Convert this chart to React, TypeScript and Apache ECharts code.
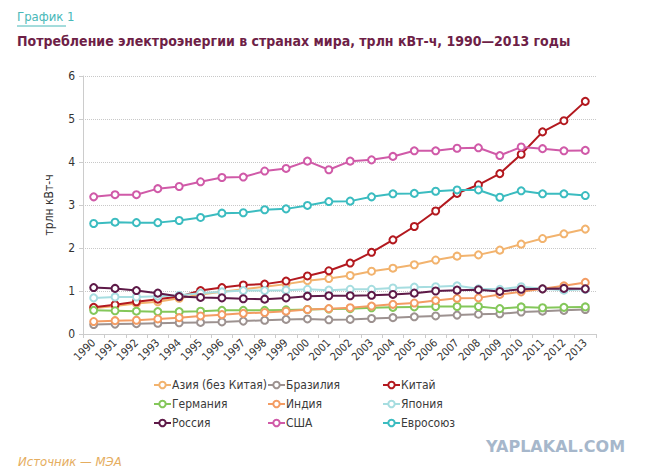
import React, { useEffect, useRef } from 'react';
import * as echarts from 'echarts';

const years = [
  '1990', '1991', '1992', '1993', '1994', '1995', '1996', '1997', '1998', '1999', '2000', '2001',
  '2002', '2003', '2004', '2005', '2006', '2007', '2008', '2009', '2010', '2011', '2012', '2013',
];

const asia = [0.60, 0.65, 0.71, 0.75, 0.83, 0.92, 0.98, 1.04, 1.10, 1.16, 1.24, 1.29, 1.36, 1.46, 1.53, 1.61, 1.72, 1.81, 1.84, 1.95, 2.09, 2.22, 2.33, 2.44];
const brazil = [0.22, 0.23, 0.24, 0.25, 0.26, 0.27, 0.28, 0.30, 0.32, 0.34, 0.35, 0.33, 0.34, 0.36, 0.38, 0.40, 0.42, 0.44, 0.46, 0.47, 0.51, 0.53, 0.55, 0.57];
const china = [0.62, 0.68, 0.75, 0.81, 0.87, 1.01, 1.08, 1.14, 1.16, 1.23, 1.35, 1.47, 1.65, 1.90, 2.19, 2.50, 2.86, 3.27, 3.47, 3.73, 4.18, 4.70, 4.96, 5.41];
const germany = [0.55, 0.54, 0.53, 0.52, 0.52, 0.53, 0.55, 0.55, 0.55, 0.56, 0.57, 0.58, 0.59, 0.61, 0.62, 0.63, 0.64, 0.64, 0.64, 0.59, 0.63, 0.61, 0.62, 0.63];
const india = [0.29, 0.31, 0.32, 0.35, 0.38, 0.42, 0.45, 0.48, 0.50, 0.53, 0.57, 0.59, 0.61, 0.65, 0.69, 0.72, 0.78, 0.83, 0.84, 0.92, 0.98, 1.05, 1.12, 1.20];
const japan = [0.84, 0.86, 0.86, 0.88, 0.90, 0.95, 0.98, 1.01, 1.01, 1.02, 1.04, 1.02, 1.04, 1.04, 1.07, 1.09, 1.10, 1.12, 1.05, 1.04, 1.10, 1.05, 1.02, 1.04];
const russia = [1.08, 1.06, 1.01, 0.95, 0.87, 0.85, 0.84, 0.82, 0.81, 0.84, 0.88, 0.89, 0.89, 0.90, 0.92, 0.95, 1.00, 1.02, 1.03, 0.99, 1.04, 1.05, 1.06, 1.05];
const usa = [3.19, 3.24, 3.24, 3.38, 3.43, 3.54, 3.64, 3.65, 3.79, 3.85, 4.02, 3.82, 4.02, 4.05, 4.13, 4.26, 4.26, 4.32, 4.33, 4.15, 4.35, 4.31, 4.26, 4.27];
const eu = [2.57, 2.60, 2.59, 2.59, 2.64, 2.71, 2.81, 2.82, 2.89, 2.91, 2.99, 3.08, 3.09, 3.19, 3.26, 3.27, 3.32, 3.35, 3.35, 3.18, 3.33, 3.26, 3.26, 3.22];

const seriesList = [
  { name: 'Азия (без Китая)', data: asia, color: '#f2b36e' },
  { name: 'Бразилия', data: brazil, color: '#9d9290' },
  { name: 'Китай', data: china, color: '#b3191f' },
  { name: 'Германия', data: germany, color: '#84c75a' },
  { name: 'Индия', data: india, color: '#f39c63' },
  { name: 'Япония', data: japan, color: '#a6dde0' },
  { name: 'Россия', data: russia, color: '#5e1a48' },
  { name: 'США', data: usa, color: '#d05aa8' },
  { name: 'Евросоюз', data: eu, color: '#3bbcc0' },
];

// колонки легенды
const legendCols = [
  ['Азия (без Китая)', 'Германия', 'Россия'],
  ['Бразилия', 'Индия', 'США'],
  ['Китай', 'Япония', 'Евросоюз'],
];
const legendLeft = [148, 262, 377];

const FONT = "'Liberation Sans Narrow', 'DejaVu Sans Condensed', 'Noto Sans', sans-serif";

const App: React.FC = () => {
  const chartRef = useRef<HTMLDivElement>(null);

  useEffect(() => {
    document.body.style.margin = '0';
    if (!chartRef.current) return;
    const chart = echarts.init(chartRef.current, null, { renderer: 'svg' });

    chart.setOption({
      animation: false,
      backgroundColor: '#ffffff',
      textStyle: { fontFamily: FONT },
      grid: { left: 83, right: 50, top: 76, bottom: 140 },
      legend: legendCols.map((col, i) => ({
        orient: 'vertical',
        left: legendLeft[i],
        top: 373,
        data: col,
        itemWidth: 17,
        itemHeight: 8,
        itemGap: 5,
        selectedMode: false,
        textStyle: { fontSize: 12, lineHeight: 14, color: '#3a3a3a', padding: [0, 0, 0, -4], fontFamily: FONT },
      })),
      xAxis: {
        type: 'category',
        data: years,
        boundaryGap: true,
        axisLine: { lineStyle: { color: '#cccccc' } },
        axisTick: { show: true, length: 4, lineStyle: { color: '#cccccc' } },
        axisLabel: { interval: 0, rotate: 45, fontSize: 11, color: '#333333', margin: 7, fontFamily: FONT },
      },
      yAxis: {
        type: 'value',
        min: 0,
        max: 6,
        interval: 1,
        name: 'трлн кВт-ч',
        nameLocation: 'middle',
        nameGap: 28,
        nameTextStyle: { fontSize: 12, color: '#333333', fontFamily: FONT },
        axisLine: { show: true, lineStyle: { color: '#cccccc' } },
        axisTick: { show: true, length: 4, lineStyle: { color: '#cccccc' } },
        axisLabel: { fontSize: 12, color: '#333333', margin: 8, fontFamily: FONT },
        splitLine: { lineStyle: { color: '#c8c8c8', type: 'dotted' } },
      },
      series: seriesList.map((s) => ({
        name: s.name,
        type: 'line',
        data: s.data,
        symbol: 'emptyCircle',
        symbolSize: 7,
        color: s.color,
        lineStyle: { width: 2, color: s.color },
        itemStyle: { color: s.color, borderColor: s.color, borderWidth: 2 },
      })),
      graphic: [
        {
          type: 'text',
          left: 17,
          top: 10,
          style: { text: 'График 1', fontSize: 13, fill: '#48b8b8', fontFamily: FONT },
        },
        {
          type: 'line',
          shape: { x1: 17, y1: 26, x2: 66, y2: 26 },
          style: { stroke: '#48b8b8', lineWidth: 1 },
        },
        {
          type: 'text',
          left: 17,
          top: 34,
          style: {
            text: 'Потребление электроэнергии в странах мира, трлн кВт-ч, 1990—2013 годы',
            fontSize: 14,
            fontWeight: 'bold',
            fill: '#6e1f47',
            fontFamily: FONT,
          },
        },
        {
          type: 'text',
          left: 18,
          top: 455,
          style: { text: 'Источник — МЭА', fontSize: 13, fontStyle: 'italic', fill: '#e5ad60', fontFamily: FONT },
        },
        {
          type: 'text',
          left: 486,
          top: 438,
          style: { text: 'YAPLAKAL.COM', fontSize: 16, fontWeight: 'bold', fill: '#a6b7cb', fontFamily: "'DejaVu Sans', sans-serif" },
        },
      ],
    });

    return () => {
      chart.dispose();
    };
  }, []);

  return <div ref={chartRef} style={{ width: 646, height: 474 }} />;
};

export default App;
